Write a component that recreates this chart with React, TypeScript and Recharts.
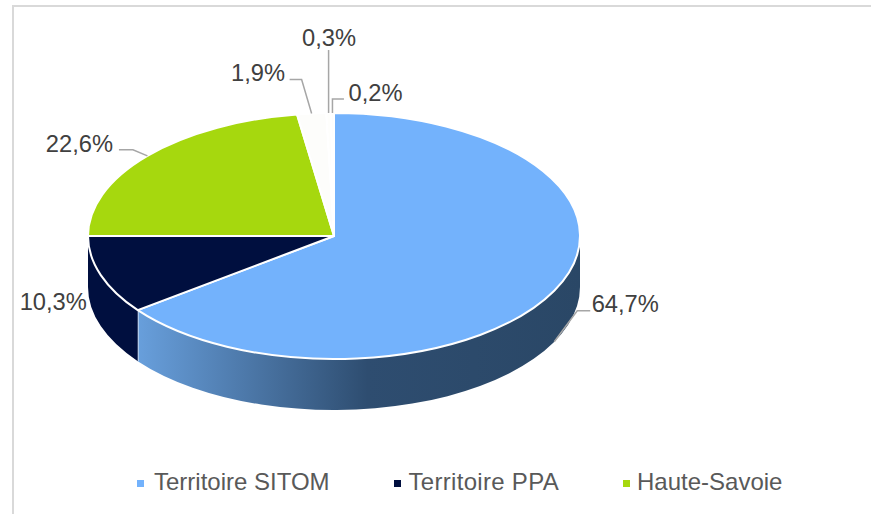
import React from "react";
import { PieChart, Pie, Legend } from "recharts";

const categories = ["Territoire SITOM", "Territoire PPA", "Haute-Savoie", "Autre 1", "Autre 2", "Autre 3"];
const shares = [64.7, 10.3, 22.6, 1.9, 0.3, 0.2];
const sliceColors = ["#73B2FC", "#000F3F", "#A6D80E", "#FDFDFB", "#FEFEFC", "#FEFEFC"];
const legendNames = categories.slice(0, 3);

const data = categories.map((name, i) => ({ name, value: shares[i], fill: sliceColors[i] }));

const SQUASH = 0.5;
const DEPTH = 51;
const FONT = "'Liberation Sans', Arial, sans-serif";

const pt = (cx: number, cy: number, r: number, t: number) => {
  const rad = (t * Math.PI) / 180;
  return [cx + r * Math.sin(rad), cy - r * SQUASH * Math.cos(rad)];
};

function Slice3D(props: any) {
  const { cx, cy, outerRadius: r, startAngle, endAngle, fill, index } = props;
  const a = 90 - startAngle;
  const b = 90 - endAngle;
  const ry = r * SQUASH;
  const [x1, y1] = pt(cx, cy, r, a);
  const [x2, y2] = pt(cx, cy, r, b);
  const large = b - a > 180 ? 1 : 0;
  const top = `M${cx},${cy}L${x1},${y1}A${r},${ry} 0 ${large} 1 ${x2},${y2}Z`;
  const w1 = Math.max(a, 90);
  const w2 = Math.min(b, 270);
  let wall: React.ReactNode = null;
  if (w2 > w1) {
    const [p1, q1] = pt(cx, cy, r, w1);
    const [p2, q2] = pt(cx, cy, r, w2);
    const d = `M${p1},${q1}A${r},${ry} 0 0 1 ${p2},${q2}L${p2},${q2 + DEPTH}A${r},${ry} 0 0 0 ${p1},${q1 + DEPTH}Z`;
    const gid = `wall-${index}`;
    wall = (
      <g>
        {index === 0 && (
          <defs>
            <linearGradient id={gid} gradientUnits="userSpaceOnUse" x1={p2} x2={p1} y1="0" y2="0">
              <stop offset="0" stopColor="#689FDC" />
              <stop offset="0.52" stopColor="#2E4D70" />
              <stop offset="1" stopColor="#2A4766" />
            </linearGradient>
          </defs>
        )}
        <path d={d} fill={index === 0 ? `url(#${gid})` : fill} />
        {index === 0 && <line x1={p2} y1={q2} x2={p2} y2={q2 + DEPTH} stroke="#F2F6FB" strokeWidth={1.5} />}
      </g>
    );
  }
  return (
    <g>
      {wall}
      <path d={top} fill={fill} stroke="#FFFFFF" strokeWidth={2} strokeLinejoin="round" />
    </g>
  );
}

// label placement per slice: text centre and leader elbows, relative to the slice's rim point
const labelLayout = [
  { tx: 71, ty: -38, depth: DEPTH, leader: [[23, -31], [36, -31]] },
  { tx: -47.5, ty: 27, depth: 0, leader: [] as number[][] },
  { tx: -68, ty: -12, depth: 0, leader: [[-14.5, -6], [-28.5, -6]] },
  { tx: -53.5, ty: -41, depth: 0, leader: [[-10, -34], [-22, -34]] },
  { tx: 0.5, ty: -75, depth: 0, leader: [[0, -63]] },
  { tx: 43, ty: -20, depth: 0, leader: [[0, -14], [11.5, -14]] },
];

function SliceLabel(props: any) {
  const { cx, cy, outerRadius: r, midAngle, value, index } = props;
  const l = labelLayout[index];
  const [ax, ay0] = pt(cx, cy, r, 90 - midAngle);
  const ay = ay0 + l.depth;
  const pts = [[ax, ay], ...l.leader.map(([dx, dy]) => [ax + dx, ay + dy])];
  return (
    <g>
      {l.leader.length > 0 && (
        <polyline points={pts.map((p) => p.join(",")).join(" ")} fill="none" stroke="#A6A6A6" strokeWidth={1.5} />
      )}
      <text
        x={ax + l.tx}
        y={ay + l.ty}
        textAnchor="middle"
        dominantBaseline="central"
        fontFamily={FONT}
        fontSize={23.7}
        fill="#404040"
      >
        {String(value).replace(".", ",")}%
      </text>
    </g>
  );
}

function LegendBody({ payload }: any) {
  const items = (payload || []).filter((p: any) => legendNames.includes(p.value));
  const lefts = [137, 394, 623];
  const gaps = [10, 7.5, 7];
  const spacing = [0, 0.3, 0];
  return (
    <div style={{ position: "relative", height: 34, fontFamily: FONT, fontSize: 24, color: "#595959" }}>
      {items.map((p: any, i: number) => (
        <div key={p.value} style={{ position: "absolute", left: lefts[i], top: 0, lineHeight: "34px", whiteSpace: "nowrap", letterSpacing: spacing[i] }}>
          <span style={{ display: "inline-block", width: 7, height: 7, background: p.color, marginRight: gaps[i], verticalAlign: "middle" }} />
          {p.value}
        </div>
      ))}
    </div>
  );
}

export default function App() {
  return (
    <div style={{ position: "absolute", left: 0, top: 0, width: 871, height: 514, background: "#fff", overflow: "hidden" }}>
      <div style={{ position: "absolute", left: 12, top: 5, width: 859, height: 509, borderTop: "2px solid #D9D9D9", borderLeft: "2px solid #D9D9D9" }} />
      <PieChart width={871} height={514} margin={{ top: 0, right: 0, bottom: 0, left: 0 }} style={{ position: "absolute", left: 0, top: 0 }}>
        <Pie
          data={data}
          dataKey="value"
          nameKey="name"
          cx={334}
          cy={236}
          outerRadius={246}
          startAngle={90}
          endAngle={-270}
          isAnimationActive={false}
          shape={Slice3D}
          label={SliceLabel}
          labelLine={false}
        />
        <Legend itemSorter={null} content={LegendBody} wrapperStyle={{ left: 0, top: 465, width: 871, bottom: "auto" }} />
      </PieChart>
    </div>
  );
}
